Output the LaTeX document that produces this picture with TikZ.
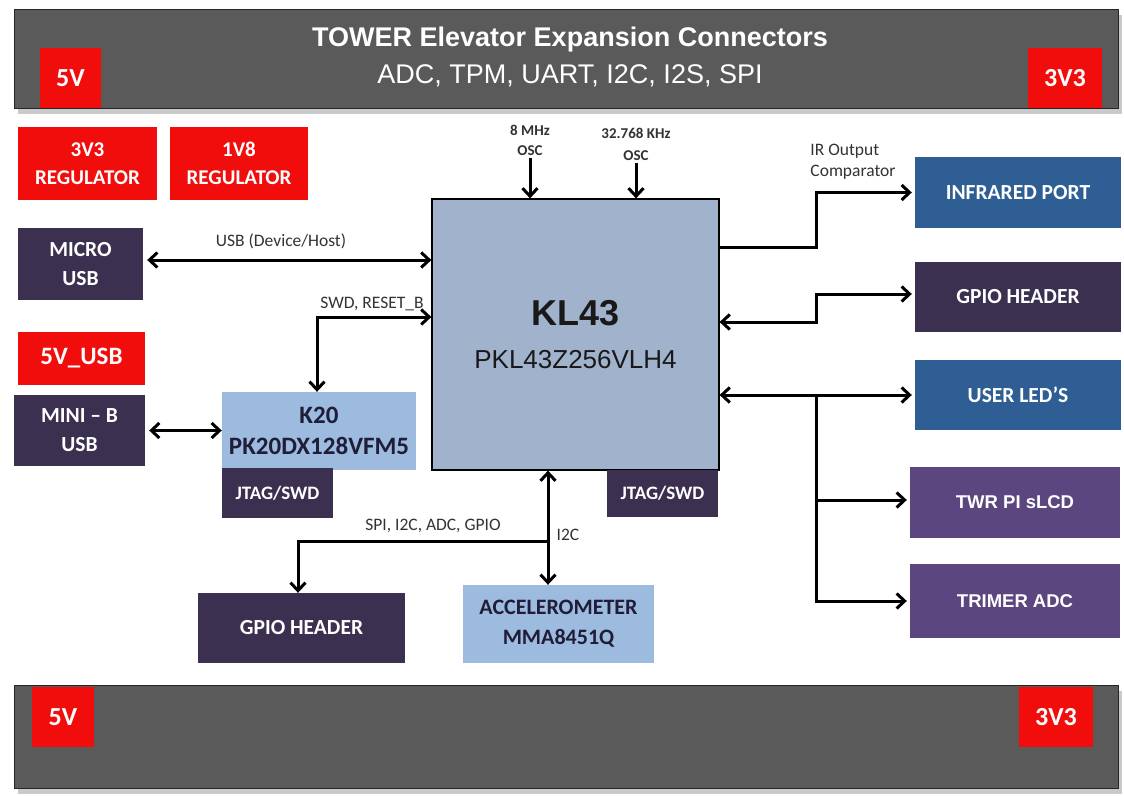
\documentclass[tikz,border=0pt]{standalone}
\usepackage{fontspec}
\setmainfont{Carlito}
\newfontfamily\arialfont{Liberation Sans}
\usetikzlibrary{arrows.meta,shadows}

\definecolor{twrRed}{HTML}{F20D0D}
\definecolor{twrGray}{HTML}{5A5A5A}
\definecolor{twrDark}{HTML}{3B3050}
\definecolor{twrSteel}{HTML}{A0B2CC}
\definecolor{twrLight}{HTML}{9DBADF}
\definecolor{twrBlue}{HTML}{2E5E94}
\definecolor{twrPurple}{HTML}{5B4680}
\definecolor{twrInk}{HTML}{1F1D38}

\begin{document}
\begin{tikzpicture}[x=1pt, y=-1pt, >={Straight Barb[length=8pt,width=15pt]},
	every node/.style={inner sep=0pt, align=center},
	bar/.style={fill=twrGray, draw=black!85, line width=1pt, minimum width=1104pt,
		drop shadow={shadow xshift=4pt, shadow yshift=-6pt, fill=black!35, opacity=0.6}},
	pwr/.style={fill=twrRed, text=white, font=\fontsize{26}{28}\selectfont\bfseries},
	redbox/.style={fill=twrRed, text=white, font=\fontsize{21}{28}\selectfont\bfseries},
	darkbox/.style={fill=twrDark, text=white, font=\fontsize{21.5}{29}\selectfont\bfseries},
	bluebox/.style={fill=twrBlue, text=white, font=\fontsize{21.5}{29}\selectfont\bfseries},
	purplebox/.style={fill=twrPurple, text=white, font=\arialfont\fontsize{18.5}{22}\selectfont\bfseries},
	lightbox/.style={fill=twrLight, text=twrInk, font=\fontsize{22}{30}\selectfont\bfseries},
	lbl/.style={text=black!80, font=\fontsize{17.5}{21}\selectfont},
	wire/.style={line width=3pt}]
	\useasboundingbox[fill=white] (0,0) rectangle (1124,795);
	
	% Tower elevator bars
	\node[bar, minimum height=99pt] (topbar) at (566,58.5) {};
	\node[bar, minimum height=103pt] (botbar) at (566,736.5) {};
	\node[text=white, font=\arialfont\fontsize{27}{30}\selectfont\bfseries] (title) at (570,40) {TOWER Elevator Expansion Connectors};
	\node[text=white, font=\arialfont\fontsize{27}{30}\selectfont] (subtitle) at (570,76) {ADC, TPM, UART, I2C, I2S, SPI};
	
	% power tabs
	\node[pwr, minimum width=61pt, minimum height=60pt] (topfive) at (70.5,78) {5V};
	\node[pwr, minimum width=74pt, minimum height=60pt] (topthree) at (1065,78) {3V3};
	\node[pwr, minimum width=62pt, minimum height=60pt] (botfive) at (63,717) {5V};
	\node[pwr, minimum width=74pt, minimum height=60pt] (botthree) at (1056,717) {3V3};
	
	% left column
	\node[redbox, minimum width=139pt, minimum height=73pt] (regthree) at (87.5,163.5) {3V3\\REGULATOR};
	\node[redbox, minimum width=138pt, minimum height=73pt] (regone) at (239,163.5) {1V8\\REGULATOR};
	\node[darkbox, minimum width=125pt, minimum height=72pt] (microusb) at (80.5,264) {MICRO\\USB};
	\node[redbox, font=\fontsize{25}{28}\selectfont\bfseries, minimum width=127pt, minimum height=53pt] (fiveusb) at (81.5,358.5) {5V\_USB};
	\node[darkbox, minimum width=131pt, minimum height=71pt] (miniusb) at (79.5,430.5) {MINI -- B\\USB};
	
	% K20 debug MCU
	\node[lightbox, font=\fontsize{25}{31}\selectfont\bfseries, minimum width=194pt, minimum height=78pt] (k20) at (319,431) {K20\\PK20DX128VFM5};
	\node[darkbox, font=\fontsize{19}{22}\selectfont\bfseries, minimum width=111pt, minimum height=50pt] (k20jtag) at (277.5,493) {JTAG/SWD};
	
	% KL43 main MCU
	\node[fill=twrSteel, draw=black, line width=1.2pt, minimum width=287pt, minimum height=271pt, text=black!90] (kl43) at (575.5,334.5)
		{{\arialfont\fontsize{36}{40}\selectfont\bfseries KL43}\\[24pt]{\arialfont\fontsize{26}{30}\selectfont PKL43Z256VLH4}};
	\node[darkbox, font=\fontsize{19}{22}\selectfont\bfseries, minimum width=111pt, minimum height=47pt] (kljtag) at (662.5,493.5) {JTAG/SWD};
	
	% bottom boxes
	\node[darkbox, minimum width=207pt, minimum height=70pt] (gpiobot) at (301.5,628) {GPIO HEADER};
	\node[lightbox, minimum width=191pt, minimum height=78pt] (accel) at (558.5,624) {ACCELEROMETER\\MMA8451Q};
	
	% right column
	\node[bluebox, minimum width=206pt, minimum height=71pt] (irport) at (1018,192.5) {INFRARED PORT};
	\node[darkbox, minimum width=206pt, minimum height=70pt] (gpioright) at (1018,297) {GPIO HEADER};
	\node[bluebox, minimum width=206pt, minimum height=70pt] (userled) at (1018,395) {USER LED’S};
	\node[purplebox, minimum width=210pt, minimum height=71pt] (twrpi) at (1015,502.5) {TWR PI sLCD};
	\node[purplebox, minimum width=210pt, minimum height=74pt] (trimer) at (1015,601) {TRIMER ADC};
	
	% oscillators
	\node[lbl, font=\fontsize{15}{20}\selectfont\bfseries] (osceight) at (530,140) {8 MHz\\OSC};
	\node[lbl, font=\fontsize{15}{22}\selectfont\bfseries] (oscthirty) at (636,144) {32.768 KHz\\OSC};
	\draw[wire,->] (osceight.south) ++(0,3) coordinate (oscetop) -- (oscetop |- kl43.north);
	\draw[wire,->] (oscthirty.south) ++(0,3) coordinate (osctop) -- (osctop |- kl43.north);
	
	% bend points of the wires
	\coordinate (usbrow) at (0,260);
	\coordinate (swdrow) at (0,317);
	\coordinate (irbend) at (816,247);
	\coordinate (gpiobend) at (816,322);
	\coordinate (ledtap) at (816,395);
	\coordinate (i2ctap) at (548,541);
	
	% left links
	\draw[wire,<->] ([xshift=4pt]microusb.east |- usbrow) -- (kl43.west |- usbrow);
	\draw[wire,<->] ([xshift=-2pt]k20.north) |- (kl43.west |- swdrow);
	\draw[wire,<->] ([xshift=4pt]miniusb.east) -- (miniusb.east -| k20.west);
	\node[lbl] (usblbl) at (281,241) {USB (Device/Host)};
	\node[lbl] (swdlbl) at (372,304) {SWD, RESET\_B};
	
	% right links
	\draw[wire,->] (kl43.east |- irbend) -- (irbend) |- ([xshift=-3pt]irport.west);
	\draw[wire,<->] (kl43.east |- gpiobend) -- (gpiobend) |- ([xshift=-3pt,yshift=3pt]gpioright.west);
	\draw[wire,<->] (kl43.east |- userled.west) -- ([xshift=-3pt]userled.west);
	\draw[wire,->] (ledtap) |- ([xshift=-3pt,yshift=2.5pt]twrpi.west);
	\draw[wire,->] (ledtap) |- ([xshift=-3pt]trimer.west);
	\node[lbl, align=left] (irlbl) at (853,162) {IR Output\\Comparator};
	
	% bottom links
	\draw[wire,<->] (kl43.south -| i2ctap) -- (accel.north -| i2ctap);
	\draw[wire,->] (i2ctap) -| ([xshift=-3.5pt]gpiobot.north);
	\node[lbl] (spilbl) at (433,526) {SPI, I2C, ADC, GPIO};
	\node[lbl] (i2clbl) at (568,535) {I2C};
\end{tikzpicture}
\end{document}
